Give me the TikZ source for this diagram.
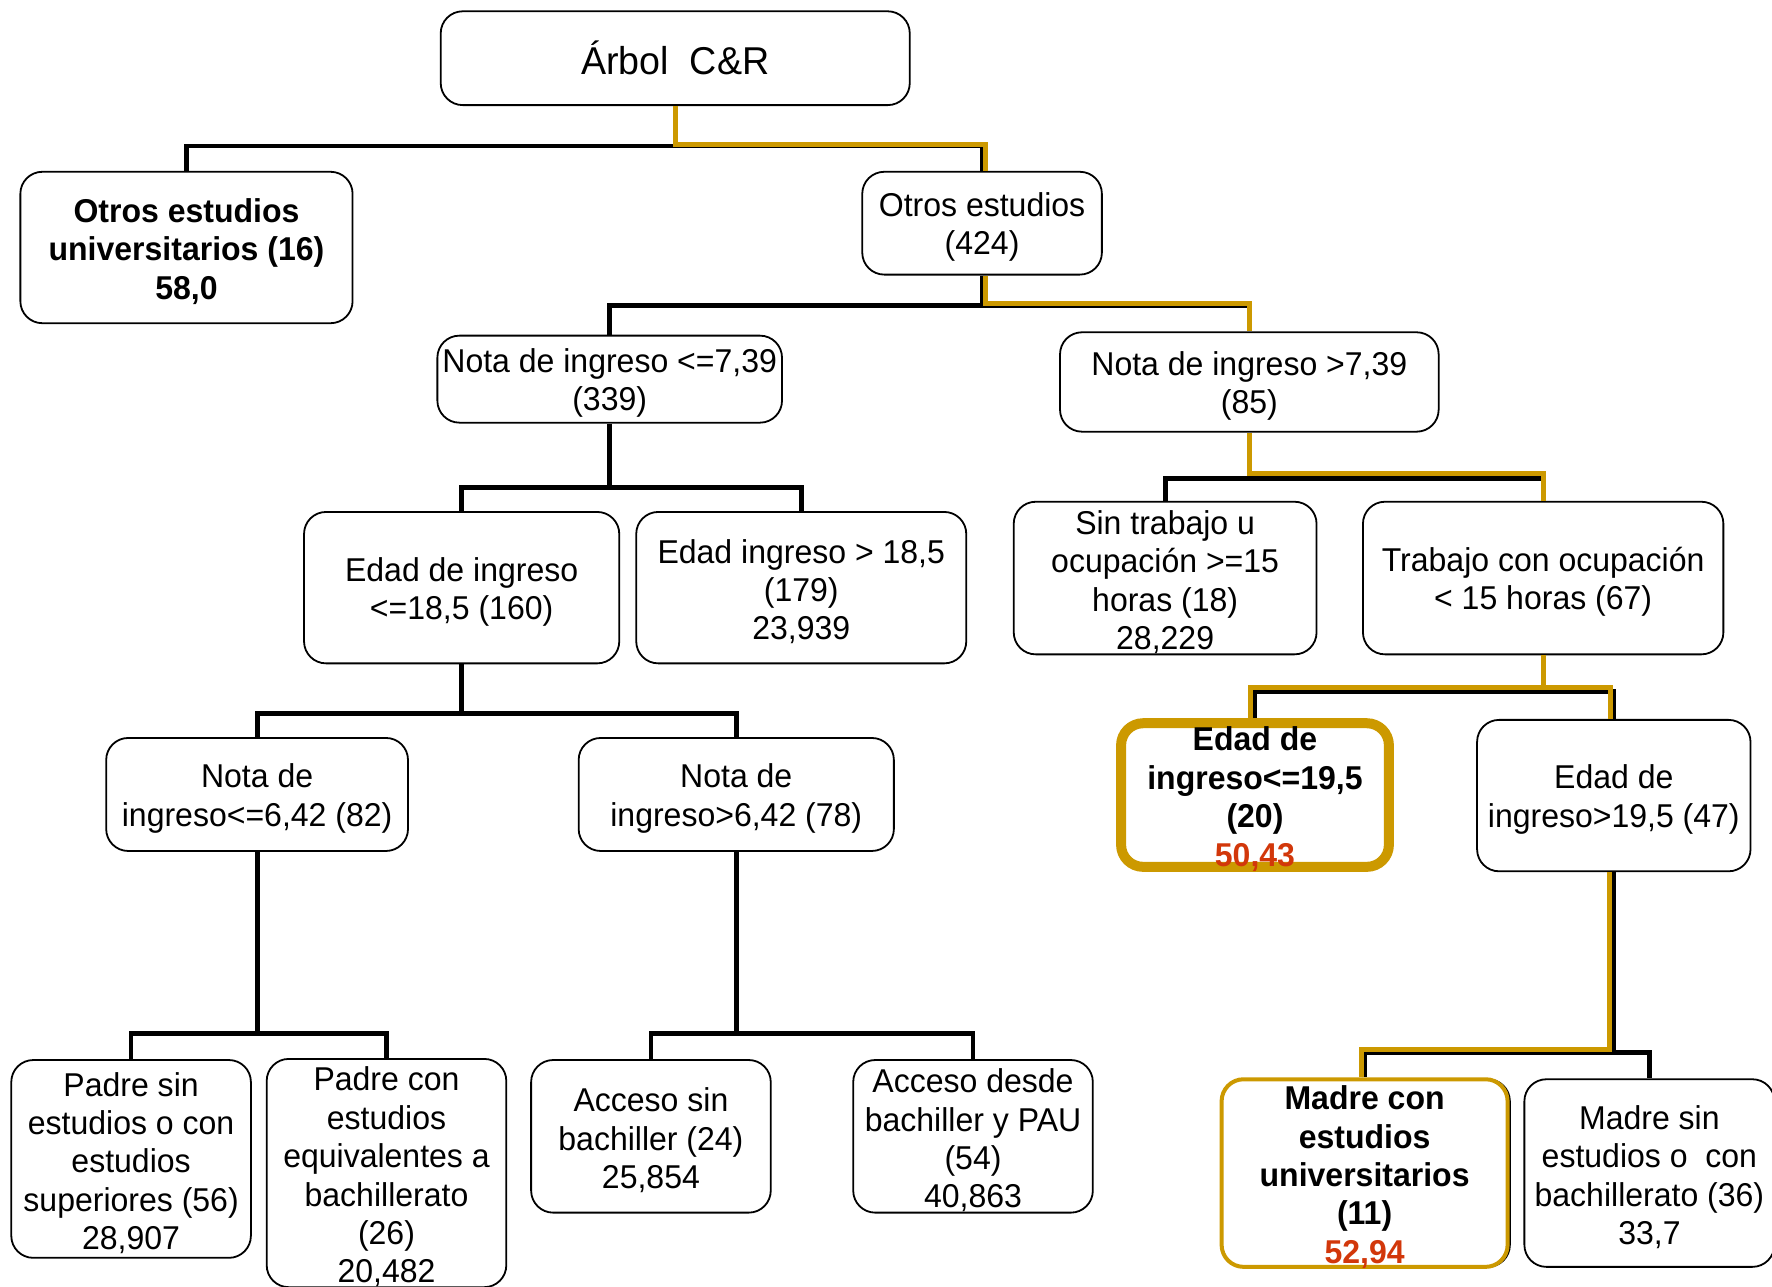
\documentclass[tikz,border=0pt]{standalone}
\usepackage{fontspec}
\setmainfont{Liberation Sans}[FakeStretch=0.97]
\definecolor{gold}{RGB}{204,153,0}
\definecolor{redval}{RGB}{210,55,10}
\newcommand{\fst}{\rule{0pt}{16pt}}
\begin{document}
\begin{tikzpicture}[x=0.565pt,y=-0.565pt,
  box/.style={draw=black, line width=0.9pt, rounded corners=11pt, fill=white, align=center, inner sep=0pt, font=\fontsize{16.5}{19.2}\selectfont},
  goldbox/.style={box, draw=gold},
  boldtext/.style={align=center, inner sep=0pt, font=\fontsize{16.5}{19.2}\selectfont\bfseries},
  link/.style={line width=2.4pt, black},
  goldlink/.style={line width=2.5pt, gold}]
\useasboundingbox (0,0) rectangle (1568,1138);

% nodes
\node[box, font=\fontsize{19.4}{22}\selectfont, minimum width=234.5pt, minimum height=46.9pt] (root) at (597.5,51.5) {Árbol\ \ C\&R};
\node[box, font=\fontsize{16.5}{19.2}\selectfont\bfseries, minimum width=166.1pt, minimum height=75.7pt] (ou) at (165,219) {\fst Otros estudios\\universitarios (16)\\58,0};
\node[box, minimum width=119.8pt, minimum height=51.4pt] (o424) at (869,197.5) {\fst Otros estudios\\(424)};
\node[box, minimum width=172.3pt, minimum height=43.5pt] (n1) at (539.5,335.5) {\fst Nota de ingreso <=7,39\\(339)};
\node[box, minimum width=189.3pt, minimum height=49.7pt] (n2) at (1105.5,338) {\fst Nota de ingreso >7,39\\(85)};
\node[box, minimum width=157.6pt, minimum height=75.7pt] (e1) at (408.5,520) {\fst Edad de ingreso\\<=18,5 (160)};
\node[box, minimum width=165pt, minimum height=75.7pt] (e2) at (709,520) {\fst Edad ingreso > 18,5\\(179)\\23,939};
\node[box, minimum width=151.4pt, minimum height=76.3pt] (s1) at (1031,511.5) {\fst Sin trabajo u\\ocupación >=15\\horas (18)\\28,229};
\node[box, minimum width=180.2pt, minimum height=76.3pt] (t1) at (1365.5,511.5) {\fst Trabajo con ocupación\\< 15 horas (67)};
\node[box, minimum width=150.9pt, minimum height=56.5pt] (m1) at (227.5,703) {\fst Nota de\\ingreso<=6,42 (82)};
\node[box, minimum width=157.6pt, minimum height=56.5pt] (m2) at (651.5,703) {\fst Nota de\\ingreso>6,42 (78)};
\node[goldbox, line width=5pt, minimum width=133.9pt, minimum height=71.8pt] (g1) at (1110.5,703.5) {};
\node[boldtext] (g1text) at (1110.5,707) {Edad de\\ingreso<=19,5\\(20)\\\textcolor{redval}{50,43}};
\node[box, minimum width=136.7pt, minimum height=75.7pt] (g2) at (1428,704) {\fst Edad de\\ingreso>19,5 (47)};
\node[box, minimum width=119.8pt, minimum height=98.9pt] (p1) at (116,1025.5) {\fst Padre sin\\estudios o con\\estudios\\superiores (56)\\28,907};
\node[box, minimum width=119.8pt, minimum height=113pt] (p2) at (342,1038) {\fst Padre con\\estudios\\equivalentes a\\bachillerato\\(26)\\20,482};
\node[box, minimum width=119.8pt, minimum height=76.3pt] (a1) at (576,1005.5) {\fst Acceso sin\\bachiller (24)\\25,854};
\node[box, minimum width=119.8pt, minimum height=76.3pt] (a2) at (861,1005.5) {\fst Acceso desde\\bachiller y PAU\\(54)\\40,863};
\node[box, minimum width=143pt, minimum height=93.8pt] (mcshadow) at (1209.5,1038) {};
\node[goldbox, line width=2pt, minimum width=143pt, minimum height=93.8pt] (mc) at (1207.5,1038) {};
\node[boldtext] (mctext) at (1207.5,1041.5) {Madre con\\estudios\\universitarios\\(11)\\\textcolor{redval}{52,94}};
\node[box, minimum width=125pt, minimum height=93.8pt] (ms) at (1459.5,1038) {\fst Madre sin\\estudios o\ \ con\\bachillerato (36)\\33,7};

% black connectors
\draw[link] (root.south) -- ++(0,37);
\draw[link] (ou.north) -- ++(0,-22) -| (o424.north);
\draw[link] (o424.south) -- ++(0,28);
\draw[link] (n1.north) -- ++(0,-26) -| (n2.north);
\draw[link] (n1.south) -- ++(0,58);
\draw[link] (e1.north) -- ++(0,-21) -| (e2.north);
\draw[link] (n2.south) -- ++(0,42);
\draw[link] (s1.north) -- ++(0,-20) -| (t1.north);
\draw[link] (e1.south) -- ++(0,45);
\draw[link] (m1.north) -- ++(0,-21) -| (m2.north);
\draw[link] (m1.south) -- ++(0,162);
\draw[link] (p1.north) -- ++(0,-23) -| (p2.north);
\draw[link] (m2.south) -- ++(0,162);
\draw[link] (a1.north) -- ++(0,-23) -| (a2.north);
\draw[link] (t1.south) -- ++(0,33);
\draw[link] (g1.north) -- ++(0,-24) -| (g2.north);
\draw[link] (g2.south) -- ++(0,162);
\draw[link] (mc.north) -- ++(0,-22) -| (ms.north);

% gold path
\draw[goldlink] (root.south) -- ++(0,34) -| ([xshift=1.7pt]o424.north);
\draw[goldlink] ([xshift=1.7pt]o424.south) -- ++(0,25) -| (n2.north);
\draw[goldlink] (n2.south) -- ++(0,36) -| (t1.north);
\draw[goldlink] (t1.south) -- ++(0,30);
\draw[goldlink] ([xshift=-2.3pt]g1.north) -- ++(0,-27) -| ([xshift=-1.5pt]g2.north);
\draw[goldlink] ([xshift=-2pt]g2.south) -- ++(0,157) -| ([xshift=-1.5pt]mc.north);
\end{tikzpicture}
\end{document}
